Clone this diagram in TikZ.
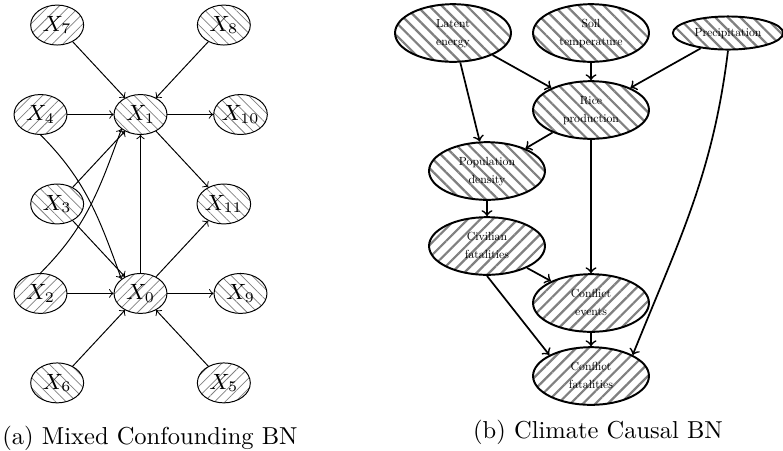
\documentclass[tikz,border=0pt]{standalone}
\usepackage{tikz}
\usetikzlibrary{positioning,shapes.geometric,patterns.meta}
\newcommand{\CauseLabel}[1]{\scalebox{0.48}{\renewcommand{\arraystretch}{1.27}\begin{tabular}{@{}c@{}}#1\end{tabular}}}

\begin{document}
\begin{tikzpicture}[x=0.408pt, y=-0.408pt, node distance = 36.5pt and 40.8pt, on grid]
\tikzset{VarStyle/.style = {ellipse, draw, line width=0.4pt, inner sep=0pt, minimum width=21.6pt, minimum height=16.3pt, font=\fontsize{9}{10}\selectfont}}
\tikzset{NEStyle/.style = {VarStyle, pattern={Lines[angle=45, distance=3pt, line width=0.3pt]}, pattern color=gray}}
\tikzset{NWStyle/.style = {VarStyle, pattern={Lines[angle=-45, distance=3pt, line width=0.3pt]}, pattern color=gray}}
\tikzset{CauseStyle/.style = {ellipse, draw, line width=0.8pt, inner sep=1pt, minimum width=47.3pt, minimum height=23pt}}
\tikzset{CauseNE/.style = {CauseStyle, pattern={Lines[angle=45, distance=3.6pt, line width=0.9pt]}, pattern color=gray}}
\tikzset{CauseNW/.style = {CauseStyle, pattern={Lines[angle=-45, distance=3.6pt, line width=0.9pt]}, pattern color=gray}}
\tikzset{EdgeStyle/.style = {->, line width=0.4pt}}
\tikzset{CauseEdge/.style = {->, line width=0.7pt}}
\useasboundingbox (0,0) rectangle (783,450);

% (a) mixed confounding
\node[NWStyle](X1) at (140.5,114.5){$X_1$};
\node[NEStyle, left=of X1](X4){$X_4$};
\node[NWStyle, right=of X1](X10){$X_{10}$};
\node[NEStyle, above left=36.5pt and 34pt of X1](X7){$X_7$};
\node[NWStyle, above right=36.5pt and 34pt of X1](X8){$X_8$};
\node[NWStyle, below left=36.5pt and 34pt of X1](X3){$X_3$};
\node[NWStyle, below right=36.5pt and 34pt of X1](X11){$X_{11}$};
\node[NEStyle, below=73pt of X1](X0){$X_0$};
\node[NEStyle, left=of X0](X2){$X_2$};
\node[NWStyle, right=of X0](X9){$X_9$};
\node[NWStyle, below left=36.5pt and 34pt of X0](X6){$X_6$};
\node[NEStyle, below right=36.5pt and 34pt of X0](X5){$X_5$};
\path[EdgeStyle]
	(X7) edge (X1)
	(X8) edge (X1)
	(X4) edge (X1)
	(X1) edge (X10)
	(X1) edge (X11)
	(X3) edge (X1)
	(X2.north) edge[out=45, in=-110] (X1.south west)
	(X4.south) edge[out=-45, in=110] (X0.north west)
	(X3) edge (X0)
	(X2) edge (X0)
	(X0) edge (X1)
	(X0) edge (X9)
	(X0) edge (X11)
	(X6) edge (X0)
	(X5) edge (X0)
	;

% (b) climate
\node[CauseNW](Soil) at (591,33){\CauseLabel{Soil\\temperature}};
\node[CauseNW](Latent) at (453,33){\CauseLabel{Latent\\energy}};
\node[CauseNW, minimum width=45pt, minimum height=13.5pt](Precip) at (728,33){\CauseLabel{Precipitation}};
\node[CauseNW](Rice) at (591,110){\CauseLabel{Rice\\production}};
\node[CauseNW](Pop) at (487,171){\CauseLabel{Population\\density}};
\node[CauseNE](Civ) at (487,246){\CauseLabel{Civilian\\fatalities}};
\node[CauseNE](Events) at (591,303){\CauseLabel{Conflict\\events}};
\node[CauseNE](Fatal) at (591,376){\CauseLabel{Conflict\\fatalities}};
\path[CauseEdge]
	(Latent) edge (Rice)
	(Latent) edge (Pop)
	(Soil) edge (Rice)
	(Precip) edge (Rice)
	(Precip.south) edge[out=-97, in=68] (Fatal.north east)
	(Rice) edge (Pop)
	(Rice) edge (Events)
	(Pop) edge (Civ)
	(Civ) edge (Events)
	(Civ.south) edge (Fatal.north west)
	(Events) edge (Fatal)
	;

\node(CapA) at (150,438){(a) Mixed Confounding BN};
\node(CapB) at (598,432.5){(b) Climate Causal BN};
\end{tikzpicture}
\end{document}
